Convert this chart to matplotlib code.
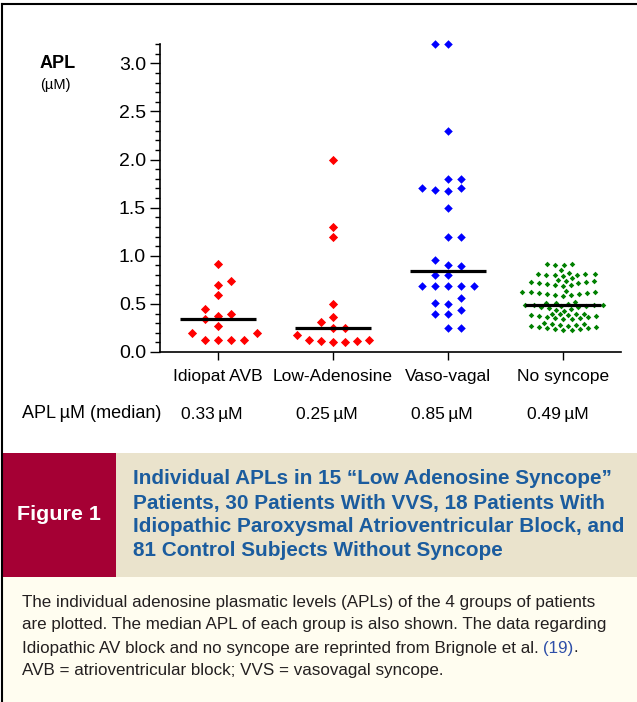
import numpy as np
import matplotlib
matplotlib.use('Agg')
import matplotlib.pyplot as plt
from matplotlib import font_manager as fm
from matplotlib.patches import Rectangle
from matplotlib.lines import Line2D
from matplotlib.ticker import MultipleLocator, FormatStrFormatter

W, H = 637, 702

groups = ['Idiopat AVB', 'Low-Adenosine', 'Vaso-vagal', 'No syncope']
median_text = ['0.33\u2009µM', '0.25\u2009µM', '0.85\u2009µM', '0.49\u2009µM']

# APL values (µM)
idiopat_avb = [0.12, 0.12, 0.12, 0.12, 0.20, 0.20, 0.27, 0.34, 0.37, 0.40,
               0.45, 0.59, 0.70, 0.74, 0.91]
low_adenosine = [0.10, 0.10, 0.11, 0.115, 0.12, 0.125, 0.18, 0.245, 0.245,
                 0.31, 0.36, 0.50, 1.20, 1.30, 2.00]
vaso_vagal = [0.25, 0.25, 0.40, 0.40, 0.44, 0.50, 0.51, 0.56, 0.69, 0.69,
              0.69, 0.69, 0.69, 0.80, 0.80, 0.89, 0.90, 0.96, 1.20, 1.20,
              1.50, 1.67, 1.68, 1.70, 1.70, 1.80, 1.80, 2.30, 3.20, 3.20]
no_syncope = [0.23, 0.23, 0.24, 0.24, 0.25, 0.25, 0.26, 0.26, 0.27, 0.27,
              0.28, 0.28, 0.29, 0.29, 0.30,
              0.34, 0.34, 0.35, 0.35, 0.36, 0.36, 0.37, 0.37, 0.38, 0.38,
              0.39, 0.39, 0.40, 0.40,
              0.43, 0.44, 0.45, 0.46, 0.47, 0.47, 0.48, 0.48, 0.49, 0.49,
              0.49, 0.49, 0.50, 0.51, 0.51, 0.52,
              0.58, 0.59, 0.59, 0.60, 0.60, 0.61, 0.61, 0.62, 0.62, 0.62, 0.63,
              0.69, 0.70, 0.70, 0.71, 0.72, 0.72, 0.73, 0.73, 0.74, 0.74, 0.75,
              0.77, 0.79, 0.80, 0.80, 0.80, 0.81, 0.81, 0.81, 0.82,
              0.85, 0.90, 0.90, 0.91, 0.91]
series = [idiopat_avb, low_adenosine, vaso_vagal, no_syncope]
colors = ['#ff0000', '#ff0000', '#0000ff', '#008000']
sizes = [22, 22, 19, 8]

header_lines = ['Individual APLs in 15 \u201cLow Adenosine Syncope\u201d',
                'Patients, 30 Patients With VVS, 18 Patients With',
                'Idiopathic Paroxysmal Atrioventricular Block, and',
                '81 Control Subjects Without Syncope']
body_lines = ['The individual adenosine plasmatic levels (APLs) of the 4 groups of patients',
              'are plotted. The median APL of each group is also shown. The data regarding',
              'Idiopathic AV block and no syncope are reprinted from Brignole et al. ',
              'AVB = atrioventricular block; VVS = vasovagal syncope.']


def has_font(name):
    try:
        fm.findfont(fm.FontProperties(family=name), fallback_to_default=False)
        return True
    except ValueError:
        return False


narrow = 'Liberation Sans Narrow' if has_font('Liberation Sans Narrow') else 'Liberation Sans'
plt.rcParams['font.family'] = ['Liberation Sans', 'DejaVu Sans']


def fx(x):
    return x / W


def fy(y):
    return 1 - y / H


fig = plt.figure(figsize=(W / 100, H / 100), dpi=100)
fig.patch.set_facecolor('white')
ax_l, ax_r, ax_b, ax_t = 160, 621, 352, 44
ax = fig.add_axes([fx(ax_l), fy(ax_b), (ax_r - ax_l) / W, (ax_b - ax_t) / H])
ax.set_xlim(0.5, 4.5)
ax.set_ylim(0, 3.2)
ppx = (ax_r - ax_l) / 4.0
ppy = (ax_b - ax_t) / 3.2


def swarm(vals, w, h, rect):
    # horizontal offsets (px) so markers do not overlap, lowest values first
    vals = np.asarray(vals, float)
    order = np.argsort(vals, kind='stable')
    steps = np.arange(1, 400) * 0.5
    px_list, py_list = [], []
    out = np.zeros(len(vals))
    side = 1.0
    for i in order:
        y = vals[i] * ppy
        cand = np.concatenate([[0.0], np.column_stack([steps * side, -steps * side]).ravel()])
        if px_list:
            ddx = np.abs(cand[:, None] - np.array(px_list)[None, :]) / w
            ddy = np.abs(y - np.array(py_list))[None, :] / h
            if rect:
                hit = (ddx < 1) & (ddy < 1)
            else:
                hit = (ddx + ddy) < 1
            free = ~hit.any(axis=1)
            dx = cand[np.argmax(free)]
        else:
            dx = 0.0
        px_list.append(dx)
        py_list.append(y)
        out[i] = dx
        if dx != 0:
            side = -np.sign(dx)
    return out


params = [(12.7, 9.5, True), (12.0, 9.5, True), (13.0, 9.5, True), (9.0, 7.0, False)]
for k, (vals, c, s, p) in enumerate(zip(series, colors, sizes, params)):
    offs = swarm(vals, *p)
    xs = (k + 1) + offs / ppx
    ax.scatter(xs, vals, marker='D', s=s, color=c, linewidths=0, zorder=3, clip_on=False)
    m = np.median(vals)
    ax.plot([k + 1 - 0.33, k + 1 + 0.33], [m, m], color='black', lw=2.3, zorder=4,
            solid_capstyle='butt')

for side in ['top', 'right']:
    ax.spines[side].set_visible(False)
for side in ['left', 'bottom']:
    ax.spines[side].set_linewidth(1.2)
ax.yaxis.set_major_locator(MultipleLocator(0.5))
ax.yaxis.set_minor_locator(MultipleLocator(0.1))
ax.yaxis.set_major_formatter(FormatStrFormatter('%.1f'))
ax.tick_params(axis='y', which='major', length=7, width=1, labelsize=14, pad=3)
ax.tick_params(axis='y', which='minor', length=3.5, width=1)
ax.set_xticks([1, 2, 3, 4])
ax.set_xticklabels(groups)
ax.tick_params(axis='x', length=6, width=1, labelsize=12.5, pad=6)
ax.patch.set_alpha(0)

fig.text(fx(40), fy(63), 'APL', fontsize=13, fontweight='bold', va='center')
fig.text(fx(40), fy(85), '(µM)', fontsize=10.5, va='center')
fig.text(fx(22), fy(414), 'APL\u2009µM (median)', fontsize=13, va='center')
for k, t in enumerate(median_text):
    fig.text(fx(ax_l + (k + 0.5) * ppx - 6), fy(414), t, fontsize=12.5, va='center', ha='center')

# frame lines
fig.add_artist(Line2D([fx(2), fx(2)], [fy(4), fy(H)], color='black', lw=1.5))
fig.add_artist(Line2D([fx(2), fx(W)], [fy(4), fy(4)], color='black', lw=1.5))

# caption header and body boxes
fig.add_artist(Rectangle((fx(3), fy(577)), (116 - 3) / W, (577 - 453) / H,
                         transform=fig.transFigure, facecolor='#a50034', edgecolor='none'))
fig.add_artist(Rectangle((fx(116), fy(577)), (W - 116) / W, (577 - 453) / H,
                         transform=fig.transFigure, facecolor='#eae3cc', edgecolor='none'))
fig.add_artist(Rectangle((fx(3), 0), (W - 3) / W, (H - 577) / H,
                         transform=fig.transFigure, facecolor='#fffdf0', edgecolor='none'))

renderer = fig.canvas.get_renderer()


def fit_size(text, target, **kw):
    t = fig.text(0, 0, text, fontsize=10, **kw)
    w = t.get_window_extent(renderer).width
    t.remove()
    return 10 * target / w


fs_fig = fit_size('Figure 1', 84, family=narrow, fontweight='bold')
fig.text(fx(59), fy(514), 'Figure 1', fontsize=fs_fig, family=narrow, fontweight='bold',
         color='white', ha='center', va='center')

fs_head = fit_size(header_lines[1], 471, family=narrow, fontweight='bold')
for i, line in enumerate(header_lines):
    fig.text(fx(133), fy(479 + 24 * i), line, fontsize=fs_head, family=narrow,
             fontweight='bold', color='#1b5c9e', va='center')

fs_body = fit_size(body_lines[0], 575)
for i, line in enumerate(body_lines):
    t = fig.text(fx(22), fy(602 + 23 * i), line, fontsize=fs_body, color='#231f20', va='center')
    if i == 2:
        w = t.get_window_extent(renderer).width
        r = fig.text(fx(22 + w), fy(602 + 23 * i), '(19)', fontsize=fs_body,
                     color='#2e4fa8', va='center')
        w2 = r.get_window_extent(renderer).width
        fig.text(fx(22 + w + w2), fy(602 + 23 * i), '.', fontsize=fs_body,
                 color='#231f20', va='center')

fig.savefig('out.png', dpi=100)
